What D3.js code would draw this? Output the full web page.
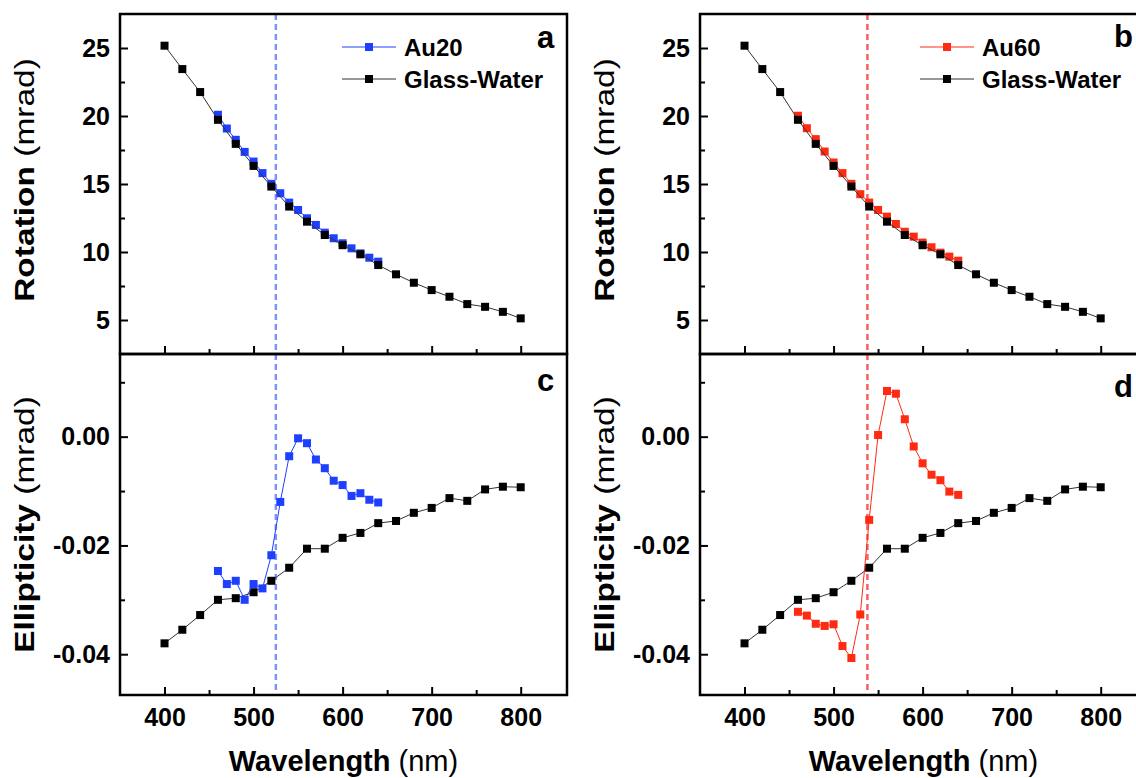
<!DOCTYPE html>
<html>
<head>
<meta charset="utf-8">
<script src="https://cdn.jsdelivr.net/npm/d3@7"></script>
<style>
  html, body { margin: 0; padding: 0; background: #fff; }
  svg { display: block; }
  text { font-family: Arial, "Liberation Sans", sans-serif; }
</style>
</head>
<body>
<svg id="fig" width="1136" height="778"></svg>
<script>
// Wavelength grids (nm)
const wavelengthsGW = [400, 420, 440, 460, 480, 500, 520, 540, 560, 580, 600, 620, 640, 660, 680, 700, 720, 740, 760, 780, 800];
const wavelengthsAu = [460, 470, 480, 490, 500, 510, 520, 530, 540, 550, 560, 570, 580, 590, 600, 610, 620, 630, 640];

// Rotation (mrad)
const rotationGlassWater = [25.17, 23.45, 21.76, 19.72, 17.95, 16.33, 14.81, 13.34, 12.23, 11.25, 10.50, 9.83, 9.04, 8.36, 7.74, 7.20, 6.71, 6.17, 5.97, 5.60, 5.12];
const rotationAu20 = [20.09, 19.08, 18.25, 17.36, 16.65, 15.80, 15.01, 14.32, 13.63, 13.09, 12.48, 11.99, 11.42, 11.01, 10.64, 10.27, 9.90, 9.58, 9.29];
const rotationAu60 = [20.02, 19.10, 18.30, 17.39, 16.58, 15.80, 15.01, 14.25, 13.63, 13.09, 12.60, 12.06, 11.49, 11.13, 10.69, 10.35, 9.95, 9.66, 9.36];

// Ellipticity (mrad)
const ellipticityGlassWater = [-0.0380, -0.0355, -0.0328, -0.0300, -0.0297, -0.0286, -0.0265, -0.0241, -0.0206, -0.0206, -0.0186, -0.0177, -0.0159, -0.0155, -0.0140, -0.0131, -0.0113, -0.0118, -0.0097, -0.0092, -0.0093];
const ellipticityAu20 = [-0.0247, -0.0271, -0.0265, -0.0300, -0.0271, -0.0279, -0.0218, -0.0120, -0.0036, -0.0003, -0.0012, -0.0042, -0.0058, -0.0081, -0.0089, -0.0109, -0.0104, -0.0116, -0.0121];
const ellipticityAu60 = [-0.0322, -0.0329, -0.0344, -0.0348, -0.0345, -0.0385, -0.0407, -0.0327, -0.0153, 0.0003, 0.0084, 0.0079, 0.0032, -0.0018, -0.0049, -0.0070, -0.0080, -0.0101, -0.0107];

// Resonance wavelengths marked by dashed lines (nm)
const resonanceAu20 = 525;
const resonanceAu60 = 538;

// Ticks
const xMajorTicks = [400, 500, 600, 700, 800];
const xMinorTicks = [450, 550, 650, 750];
const xTickLabels = ["400", "500", "600", "700", "800"];
const rotMajorTicks = [5, 10, 15, 20, 25];
const rotMinorTicks = [7.5, 12.5, 17.5, 22.5];
const rotTickLabels = ["5", "10", "15", "20", "25"];
const ellMajorTicks = [-0.04, -0.02, 0.00];
const ellMinorTicks = [-0.03, -0.01, 0.01];
const ellTickLabels = ["-0.04", "-0.02", "0.00"];

const svg = d3.select("#fig");

const columns = [
  { x0: 120, name: "Au20", color: "#1f3fff", dash: "#7f93ff", rot: rotationAu20, ell: ellipticityAu20, res: resonanceAu20, letters: ["a", "c"], legendX: 342, letterPos: [[537, 48], [537, 391]] },
  { x0: 700, name: "Au60", color: "#ff2a12", dash: "#ff5e5e", rot: rotationAu60, ell: ellipticityAu60, res: resonanceAu60, letters: ["b", "d"], legendX: 920, letterPos: [[1114, 47], [1114, 397]] }
];

const W = 447;
const topY0 = 14, midY = 354, botY1 = 695;
const mSize = 8;

function tickLabelsFor(values, labels) {
  return d => labels[values.indexOf(d)];
}

columns.forEach(col => {
  const g = svg.append("g");
  const x = d3.scaleLinear().domain([350, 852]).range([col.x0, col.x0 + W]);
  const yRot = d3.scaleLinear().domain([2.5, 27.5]).range([midY, topY0]);
  const yEll = d3.scaleLinear().domain([-0.0475, 0.0152]).range([botY1, midY]);

  // clip regions for each sub-panel
  const idTop = "clipTop" + col.name, idBot = "clipBot" + col.name;
  const defs = svg.append("defs");
  defs.append("clipPath").attr("id", idTop).append("rect")
    .attr("x", col.x0).attr("y", topY0).attr("width", W).attr("height", midY - topY0);
  defs.append("clipPath").attr("id", idBot).append("rect")
    .attr("x", col.x0).attr("y", midY).attr("width", W).attr("height", botY1 - midY);

  // resonance marker across both panels
  g.append("line")
    .attr("x1", x(col.res)).attr("x2", x(col.res))
    .attr("y1", topY0).attr("y2", botY1)
    .attr("stroke", col.dash).attr("stroke-width", 2.5)
    .attr("stroke-dasharray", "6,4");

  const line = (xs, ys, y) => d3.line().x((d, i) => x(xs[i])).y(d => y(d))(ys);

  function series(parent, xs, ys, y, color, lineColor) {
    parent.append("path").attr("d", line(xs, ys, y))
      .attr("fill", "none").attr("stroke", lineColor).attr("stroke-width", 1);
    parent.selectAll(null).data(ys).enter().append("rect")
      .attr("x", (d, i) => x(xs[i]) - mSize / 2)
      .attr("y", d => y(d) - mSize / 2)
      .attr("width", mSize).attr("height", mSize)
      .attr("fill", color);
  }

  // Rotation panel
  const gTop = g.append("g").attr("clip-path", `url(#${idTop})`);
  series(gTop, wavelengthsAu, col.rot, yRot, col.color, col.color);
  series(gTop, wavelengthsGW, rotationGlassWater, yRot, "#000", "#333");

  // Ellipticity panel
  const gBot = g.append("g").attr("clip-path", `url(#${idBot})`);
  series(gBot, wavelengthsGW, ellipticityGlassWater, yEll, "#000", "#333");
  series(gBot, wavelengthsAu, col.ell, yEll, col.color, col.color);

  // Axes
  const styleAxis = sel => {
    sel.select(".domain").remove();
    sel.selectAll(".tick line").attr("stroke", "#000").attr("stroke-width", 2);
    sel.selectAll(".tick text").attr("font-size", 25).attr("font-weight", "bold")
      .attr("fill", "#000").attr("font-family", "Arial, 'Liberation Sans', sans-serif");
  };

  g.append("g").attr("transform", `translate(${col.x0},0)`)
    .call(d3.axisLeft(yRot).tickValues(rotMajorTicks).tickSize(-8).tickPadding(10)
      .tickFormat(tickLabelsFor(rotMajorTicks, rotTickLabels))).call(styleAxis);
  g.append("g").attr("transform", `translate(${col.x0},0)`)
    .call(d3.axisLeft(yRot).tickValues(rotMinorTicks).tickSize(-5).tickFormat("")).call(styleAxis);

  g.append("g").attr("transform", `translate(${col.x0},0)`)
    .call(d3.axisLeft(yEll).tickValues(ellMajorTicks).tickSize(-8).tickPadding(10)
      .tickFormat(tickLabelsFor(ellMajorTicks, ellTickLabels))).call(styleAxis);
  g.append("g").attr("transform", `translate(${col.x0},0)`)
    .call(d3.axisLeft(yEll).tickValues(ellMinorTicks).tickSize(-5).tickFormat("")).call(styleAxis);

  // x ticks on the shared boundary (rotation panel) and on the bottom
  g.append("g").attr("transform", `translate(0,${midY})`)
    .call(d3.axisBottom(x).tickValues(xMajorTicks).tickSize(-8).tickFormat("")).call(styleAxis);
  g.append("g").attr("transform", `translate(0,${midY})`)
    .call(d3.axisBottom(x).tickValues(xMinorTicks).tickSize(-5).tickFormat("")).call(styleAxis);
  g.append("g").attr("transform", `translate(0,${botY1})`)
    .call(d3.axisBottom(x).tickValues(xMajorTicks).tickSize(-8).tickPadding(13)
      .tickFormat(tickLabelsFor(xMajorTicks, xTickLabels))).call(styleAxis);
  g.append("g").attr("transform", `translate(0,${botY1})`)
    .call(d3.axisBottom(x).tickValues(xMinorTicks).tickSize(-5).tickFormat("")).call(styleAxis);

  // Frames
  g.append("rect").attr("x", col.x0).attr("y", topY0).attr("width", W).attr("height", midY - topY0)
    .attr("fill", "none").attr("stroke", "#000").attr("stroke-width", 2.5);
  g.append("rect").attr("x", col.x0).attr("y", midY).attr("width", W).attr("height", botY1 - midY)
    .attr("fill", "none").attr("stroke", "#000").attr("stroke-width", 2.5);

  // Axis titles
  const cx = col.x0 + W / 2;
  const xt = g.append("text").attr("x", cx).attr("y", 771).attr("text-anchor", "middle")
    .attr("font-size", 29).attr("fill", "#000");
  xt.append("tspan").attr("font-weight", "bold").text("Wavelength");
  xt.append("tspan").text(" (nm)");

  // vertical titles are drawn slightly elongated along their reading direction
  const yTitle = (label, cy) => {
    const t = g.append("text")
      .attr("transform", `translate(${col.x0 - 86},${cy}) rotate(-90) scale(1.24,1)`)
      .attr("text-anchor", "middle").attr("font-size", 27).attr("fill", "#000");
    t.append("tspan").attr("font-weight", "bold").text(label);
    t.append("tspan").text(" (mrad)");
  };
  yTitle("Rotation", 180);
  yTitle("Ellipticity", (midY + botY1) / 2);

  // Panel letters
  col.letters.forEach((L, i) => {
    g.append("text").attr("x", col.letterPos[i][0]).attr("y", col.letterPos[i][1])
      .attr("font-size", 31).attr("font-weight", "bold").attr("fill", "#000").text(L);
  });

  // Legend
  const legend = [
    { label: col.name, color: col.color, lineColor: col.color, y: 47 },
    { label: "Glass-Water", color: "#000", lineColor: "#333", y: 79 }
  ];
  legend.forEach(e => {
    g.append("line").attr("x1", col.legendX).attr("x2", col.legendX + 54)
      .attr("y1", e.y).attr("y2", e.y).attr("stroke", e.lineColor).attr("stroke-width", 1);
    g.append("rect").attr("x", col.legendX + 27 - mSize / 2).attr("y", e.y - mSize / 2)
      .attr("width", mSize).attr("height", mSize).attr("fill", e.color);
    g.append("text").attr("x", col.legendX + 62).attr("y", e.y + 8.5)
      .attr("font-size", 24).attr("font-weight", "bold").attr("fill", "#000").text(e.label);
  });
});
</script>
</body>
</html>
